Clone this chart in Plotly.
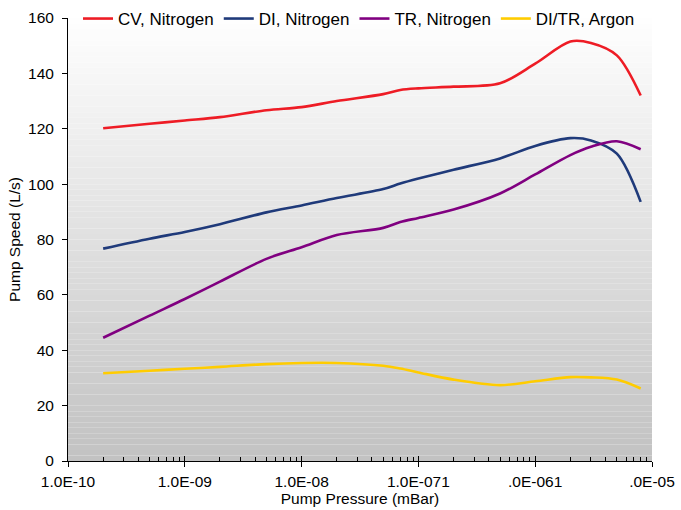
import plotly.graph_objects as go

# ---- data ----
pressure = [2e-10, 5e-10, 1e-9, 2e-9, 5e-9, 1e-8, 2e-8, 5e-8, 7e-8, 1e-7,
            2e-7, 5e-7, 1e-6, 2e-6, 3e-6, 5e-6, 8e-6]
cv_n2 = [120.2, 121.8, 123.0, 124.2, 126.7, 127.8, 130.0, 132.5, 134.0, 134.6,
         135.2, 136.4, 143.5, 151.5, 151.0, 146.5, 132.0]
di_n2 = [76.7, 80.3, 82.7, 85.5, 89.8, 92.3, 95.0, 98.2, 100.2, 102.0,
         105.2, 109.3, 113.8, 116.6, 115.8, 111.0, 93.6]
tr_n2 = [44.5, 52.5, 58.5, 64.8, 73.0, 77.2, 81.6, 84.2, 86.3, 87.8,
         90.8, 96.6, 103.5, 110.5, 113.5, 115.5, 112.6]
ditr_ar = [31.7, 32.6, 33.3, 34.0, 35.0, 35.4, 35.4, 34.4, 33.4, 32.0,
           29.4, 27.4, 28.8, 30.3, 30.2, 29.4, 26.2]

series_names = ["CV, Nitrogen", "DI, Nitrogen", "TR, Nitrogen", "DI/TR, Argon"]
series_vals = [cv_n2, di_n2, tr_n2, ditr_ar]
series_colors = ["#EE1C25", "#1F3A7A", "#800080", "#FFCC00"]

x_tickvals = [1e-10, 1e-9, 1e-8, 1e-7, 1e-6, 1e-5]
x_ticktext = ["1.0E-10", "1.0E-09", "1.0E-08", "1.0E-071", ".0E-061", ".0E-05"]
y_tickvals = [0, 20, 40, 60, 80, 100, 120, 140, 160]

FONT = "Liberation Sans, Arial, sans-serif"

fig = go.Figure()
for name, vals, col in zip(series_names, series_vals, series_colors):
    fig.add_trace(go.Scatter(x=pressure, y=vals, name=name, mode="lines",
                             line=dict(color=col, width=2.6, shape="spline", smoothing=0.9)))

# gradient plot background
shapes = []
n = 80
for i in range(n):
    t = i / (n - 1)
    c = int(round(254 - t * (254 - 194)))
    shapes.append(dict(type="rect", xref="paper", yref="paper",
                       x0=0, x1=1, y0=1 - (i + 1) / n, y1=1 - i / n,
                       fillcolor=f"rgb({c},{c},{c})", line=dict(width=0), layer="below"))

minor_vals = [m * 10 ** e for e in range(-10, -5) for m in range(2, 10)]

fig.update_layout(
    width=681, height=510,
    margin=dict(l=68, r=29, t=18, b=49, autoexpand=False),
    paper_bgcolor="white", plot_bgcolor="rgba(0,0,0,0)",
    font=dict(family=FONT, size=15.5, color="black"),
    shapes=shapes,
    showlegend=True,
    legend=dict(orientation="h", xref="container", yref="container",
                x=78 / 681, y=1 - 19 / 510, xanchor="left", yanchor="middle",
                bgcolor="rgba(0,0,0,0)", font=dict(size=17), itemwidth=30,
                tracegroupgap=0),
    xaxis=dict(type="log", range=[-10, -5], tickmode="array", tickvals=x_tickvals,
               ticktext=x_ticktext, ticks="outside", ticklen=5, tickcolor="black",
               showline=True, linecolor="black", linewidth=1, showgrid=False,
               zeroline=False, automargin=False, tickfont=dict(size=15.5),
               ticklabelstandoff=1,
               title=dict(text="Pump Pressure (mBar)", standoff=1, font=dict(size=15.5)),
               minor=dict(ticks="inside", ticklen=4, tickcolor="black",
                          tickmode="array", tickvals=minor_vals, showgrid=False)),
    xaxis2=dict(type="log", range=[-10, -5], overlaying="x", side="bottom",
                tickmode="array", tickvals=x_tickvals, ticktext=[""] * 6,
                ticks="inside", ticklen=5, tickcolor="black", showgrid=False,
                showline=False, zeroline=False, anchor="y", automargin=False),
    yaxis=dict(range=[0, 160], tickmode="array", tickvals=y_tickvals,
               ticks="outside", ticklen=5, tickcolor="black",
               showline=True, linecolor="black", linewidth=1, showgrid=False,
               zeroline=False, automargin=False, tickfont=dict(size=15.5),
               ticklabelstandoff=5,
               title=dict(text="Pump Speed (L/s)", standoff=3, font=dict(size=15.5))),
)
# dummy trace to activate xaxis2
fig.add_trace(go.Scatter(x=[1e-10], y=[None], xaxis="x2", showlegend=False,
                         hoverinfo="skip"))

fig.write_html("out.html", config={"displayModeBar": False},
               post_script="document.body.style.margin='0';document.body.style.overflow='hidden';")
